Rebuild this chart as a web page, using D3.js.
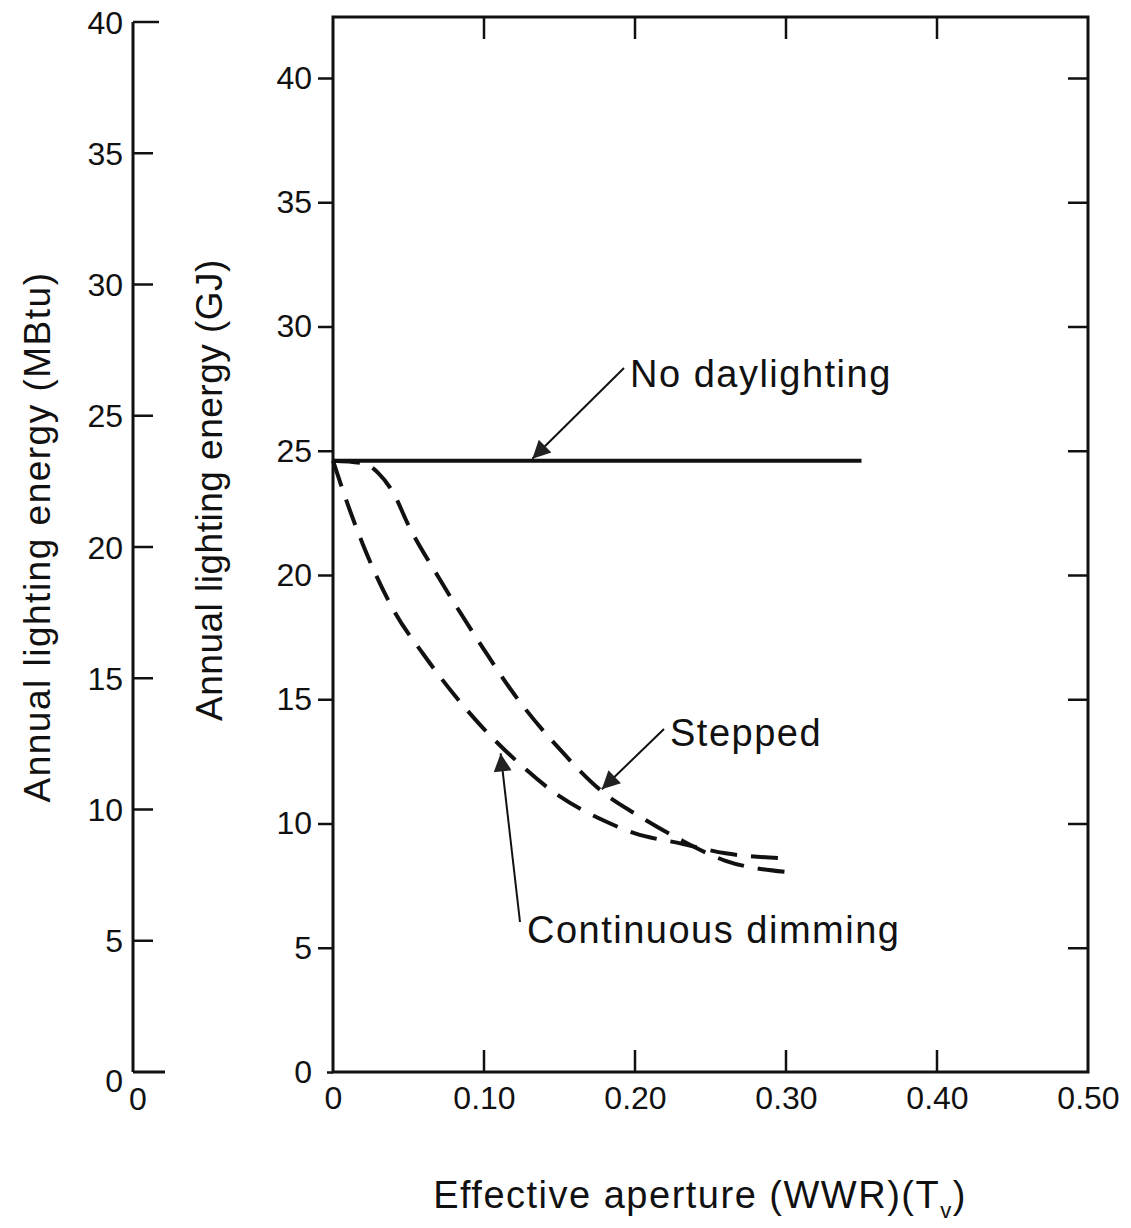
<!DOCTYPE html>
<html lang="en">
<head>
<meta charset="utf-8">
<title>Annual lighting energy</title>
<script src="https://d3js.org/d3.v7.min.js"></script>
<style>
  html, body { margin: 0; padding: 0; background: #fff; }
  text { font-family: "Liberation Sans", Arial, sans-serif; fill: #111; }
  .tick text { font-size: 32px; }
  .axis path, .axis line { stroke: #111; }
  path.curve { fill: none; stroke: #111; stroke-width: 4px; }
</style>
</head>
<body>
<script>
// values (x = effective aperture, y = GJ)
var xTicks = [0, 0.10, 0.20, 0.30, 0.40, 0.50];
var xTickLabels = ["0", "0.10", "0.20", "0.30", "0.40", "0.50"];
var gjTicks = [0, 5, 10, 15, 20, 25, 30, 35, 40];
var mbtuTicks = [0, 5, 10, 15, 20, 25, 30, 35, 40];

var noDaylighting = [[0, 24.6], [0.35, 24.6]];
var stepped = [[0, 24.6], [0.02, 24.5], [0.03, 24.1], [0.04, 23.3], [0.05, 22.0], [0.07, 19.9],
               [0.10, 17.0], [0.12, 15.2], [0.15, 13.0], [0.18, 11.2], [0.20, 10.4],
               [0.23, 9.35], [0.26, 8.5], [0.30, 8.05]];
var continuous = [[0, 24.6], [0.01, 22.8], [0.02, 21.2], [0.04, 18.6], [0.06, 16.8], [0.08, 15.2],
                  [0.10, 13.8], [0.12, 12.6], [0.15, 11.1], [0.18, 10.1], [0.20, 9.6],
                  [0.23, 9.2], [0.26, 8.8], [0.30, 8.6]];

var W = 1131, H = 1228;
var svg = d3.select("body").append("svg").attr("width", W).attr("height", H);

var x = d3.scaleLinear().domain([0, 0.5]).range([333, 1088]);
var y = d3.scaleLinear().domain([0, 40]).range([1072, 78]);
var yM = d3.scaleLinear().domain([0, 40]).range([1072, 22]);
var frameTop = 17;

// left MBtu axis
var mAxis = svg.append("g").attr("class", "axis");
mAxis.append("line").attr("x1", 133).attr("x2", 133).attr("y1", yM(40)).attr("y2", yM(0))
  .attr("stroke-width", 3);
mAxis.selectAll("line.t").data(mbtuTicks.filter(function(d){ return d > 0; })).enter()
  .append("line").attr("class", "t")
  .attr("x1", 133).attr("x2", function(d){ return d == 40 ? 159 : 153; })
  .attr("y1", function(d){ return yM(d); }).attr("y2", function(d){ return yM(d); })
  .attr("stroke-width", 2.5);
mAxis.append("line").attr("x1", 133).attr("x2", 165).attr("y1", yM(0)).attr("y2", yM(0))
  .attr("stroke-width", 3);
mAxis.selectAll("text.t").data(mbtuTicks).enter().append("text").attr("class", "t")
  .attr("x", 123).attr("y", function(d){ return yM(d) + (d == 0 ? 8 : 0); })
  .attr("text-anchor", "end").attr("dy", "0.36em").style("font-size", "32px")
  .text(function(d){ return d; });
mAxis.append("text").attr("x", 138).attr("y", yM(0) + 26).attr("text-anchor", "middle")
  .attr("dy", "0.36em").style("font-size", "32px").text("0");

// frame
svg.append("rect").attr("x", x(0)).attr("y", frameTop).attr("width", x(0.5) - x(0))
  .attr("height", y(0) - frameTop)
  .attr("fill", "none").attr("stroke", "#111").attr("stroke-width", 3);

// GJ axis (left of frame) with inward ticks on the right side
var gAxis = svg.append("g").attr("class", "axis")
  .attr("transform", "translate(" + x(0) + ",0)")
  .call(d3.axisLeft(y).tickValues(gjTicks).tickSize(15).tickPadding(6).tickFormat(d3.format("d")));
gAxis.select(".domain").remove();
gAxis.selectAll(".tick line").attr("stroke-width", 2.5);
gAxis.selectAll(".tick").filter(function(d){ return d == 0; }).select("line").attr("x2", -6);

var rAxis = svg.append("g").attr("class", "axis")
  .attr("transform", "translate(" + x(0.5) + ",0)")
  .call(d3.axisLeft(y).tickValues(gjTicks.filter(function(d){ return d > 0; })).tickSize(20).tickFormat(""));
rAxis.select(".domain").remove();
rAxis.selectAll(".tick line").attr("x2", -20).attr("stroke-width", 2.5);

// bottom axis
var bAxis = svg.append("g").attr("class", "axis")
  .attr("transform", "translate(0," + y(0) + ")")
  .call(d3.axisBottom(x).tickValues(xTicks).tickSize(0).tickPadding(14)
    .tickFormat(function(d, i){ return xTickLabels[i]; }));
bAxis.select(".domain").remove();
svg.append("g").selectAll("line").data(xTicks.slice(1, 5)).enter().append("line")
  .attr("x1", function(d){ return x(d); }).attr("x2", function(d){ return x(d); })
  .attr("y1", y(0)).attr("y2", y(0) - 22).attr("stroke", "#111").attr("stroke-width", 2.5);
svg.append("g").selectAll("line").data(xTicks.slice(1, 5)).enter().append("line")
  .attr("x1", function(d){ return x(d); }).attr("x2", function(d){ return x(d); })
  .attr("y1", frameTop).attr("y2", frameTop + 22).attr("stroke", "#111").attr("stroke-width", 2.5);

// curves
var line = d3.line().x(function(d){ return x(d[0]); }).y(function(d){ return y(d[1]); })
  .curve(d3.curveMonotoneX);
svg.append("path").attr("class", "curve").attr("d", line(noDaylighting)).attr("stroke-width", 4.5);
svg.append("path").attr("class", "curve").attr("d", line(stepped)).attr("stroke-dasharray", "27,14");
svg.append("path").attr("class", "curve").attr("d", line(continuous)).attr("stroke-dasharray", "27,14");

// annotations with arrows
svg.append("defs").append("marker").attr("id", "arr").attr("viewBox", "0 0 10 10")
  .attr("refX", 10).attr("refY", 5).attr("markerWidth", 30).attr("markerHeight", 18)
  .attr("markerUnits", "userSpaceOnUse").attr("orient", "auto")
  .append("path").attr("d", "M0,0 L10,5 L0,10 z").attr("fill", "#222");

function arrow(x0, y0, x1, y1) {
  svg.append("line").attr("x1", x0).attr("y1", y0).attr("x2", x1).attr("y2", y1)
    .attr("stroke", "#111").attr("stroke-width", 2).attr("marker-end", "url(#arr)");
}
arrow(624, 368, x(0.132), y(24.6) - 2);
arrow(664, 729, x(0.178), y(11.3) - 2);
arrow(520, 922, x(0.111), y(12.9) + 2);

function label(t, lx, ly) {
  svg.append("text").attr("x", lx).attr("y", ly).style("font-size", "38px")
    .style("letter-spacing", "1.5px").text(t);
}
label("No daylighting", 630, 387);
label("Stepped", 670, 746);
label("Continuous  dimming", 527, 943);

// axis titles
svg.append("text").attr("transform", "translate(50,537) rotate(-90)").attr("text-anchor", "middle")
  .style("font-size", "37px").style("letter-spacing", "1.5px").text("Annual lighting energy (MBtu)");
svg.append("text").attr("transform", "translate(222,490) rotate(-90)").attr("text-anchor", "middle")
  .style("font-size", "37px").style("letter-spacing", "0.5px").text("Annual lighting energy (GJ)");
var xt = svg.append("text").attr("x", 700).attr("y", 1208).attr("text-anchor", "middle")
  .style("font-size", "38px").style("letter-spacing", "1.5px");
xt.append("tspan").text("Effective aperture  (WWR)(T");
xt.append("tspan").attr("dy", 10).style("font-size", "22px").text("v");
xt.append("tspan").attr("dy", -10).text(")");
</script>
</body>
</html>
